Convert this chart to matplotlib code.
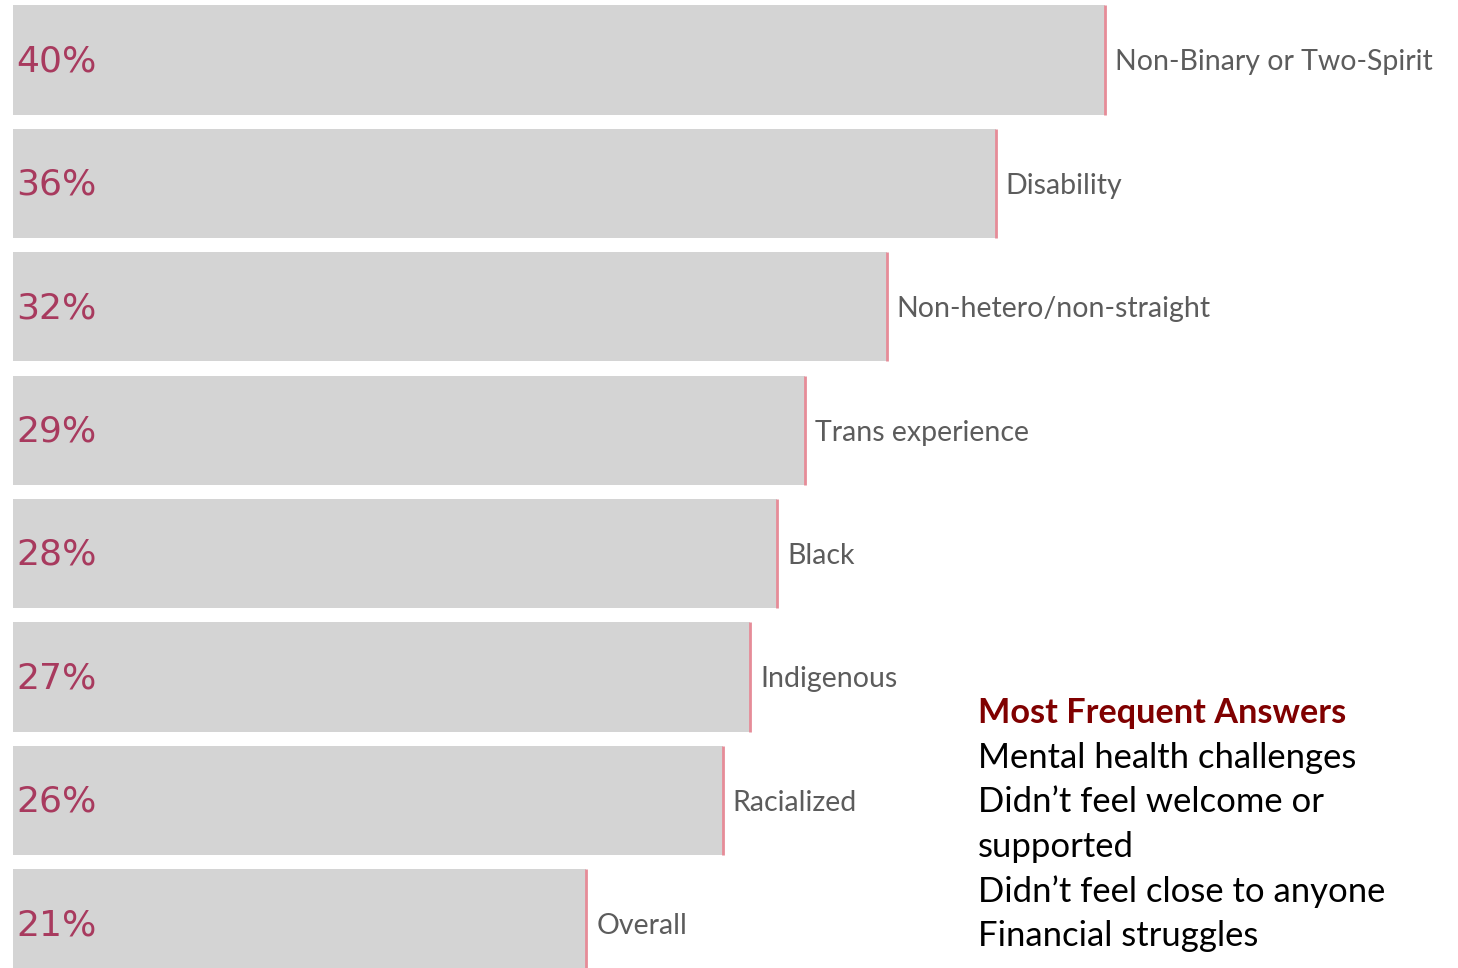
import numpy as np
import matplotlib
matplotlib.use("Agg")
import matplotlib.pyplot as plt

# -----------------------------
# Data
# -----------------------------
groups = ["Non-Binary or Two-Spirit", "Disability", "Non-hetero/non-straight",
          "Trans experience", "Black", "Indigenous", "Racialized", "Overall"]
pct = [40, 36, 32, 29, 28, 27, 26, 21]

answers_title = "Most Frequent Answers"
answers = ["Mental health challenges",
           "Didn\u2019t feel welcome or",
           "supported",
           "Didn\u2019t feel close to anyone",
           "Financial struggles",
           "Not enough support from peers"]

# -----------------------------
# Style
# -----------------------------
bar_color = "#d4d4d4"
end_color = "#e68c98"
pct_color = "#a83a5e"
label_color = "#5c5c5c"
title_color = "#800000"

W, H = 1458, 968
fig = plt.figure(figsize=(W / 100, H / 100), dpi=100)
ax = fig.add_axes([13 / W, 0, 1 - 13 / W, 1])

px_per_pct = 27.3
ax.set_xlim(0, (W - 13) / px_per_pct)
pitch = 123.4
ax.set_ylim((H - 60) / pitch, -60 / pitch)
ax.axis("off")

y = np.arange(len(groups))
bar_h = 0.885
ax.barh(y, pct, height=bar_h, color=bar_color, edgecolor="none")
ax.vlines(pct, y - bar_h / 2, y + bar_h / 2, color=end_color, lw=2)

for yi, v, name in zip(y, pct, groups):
    ax.text(0.12, yi + 0.01, f"{v}%", ha="left", va="center",
            fontsize=26, color=pct_color, family="DejaVu Sans")
    ax.text(v + 0.36, yi + 0.02, name, ha="left", va="center",
            fontsize=20.5, color=label_color, family="Lato")

# -----------------------------
# Side note with most frequent answers
# -----------------------------
x0 = 978 / W
base = 723
step = 44.7
fig.text(x0, 1 - base / H, answers_title, ha="left", va="baseline",
         fontsize=24.7, fontweight="bold", color=title_color, family="Lato")
for i, line in enumerate(answers):
    yb = base + step * (i + 1)
    if i == len(answers) - 1:
        yb += 3  # last line runs off the bottom edge
    fig.text(x0, 1 - yb / H, line, ha="left", va="baseline",
             fontsize=24.9, color="black", family="Lato")

fig.savefig("out.png", dpi=100, facecolor="white")
